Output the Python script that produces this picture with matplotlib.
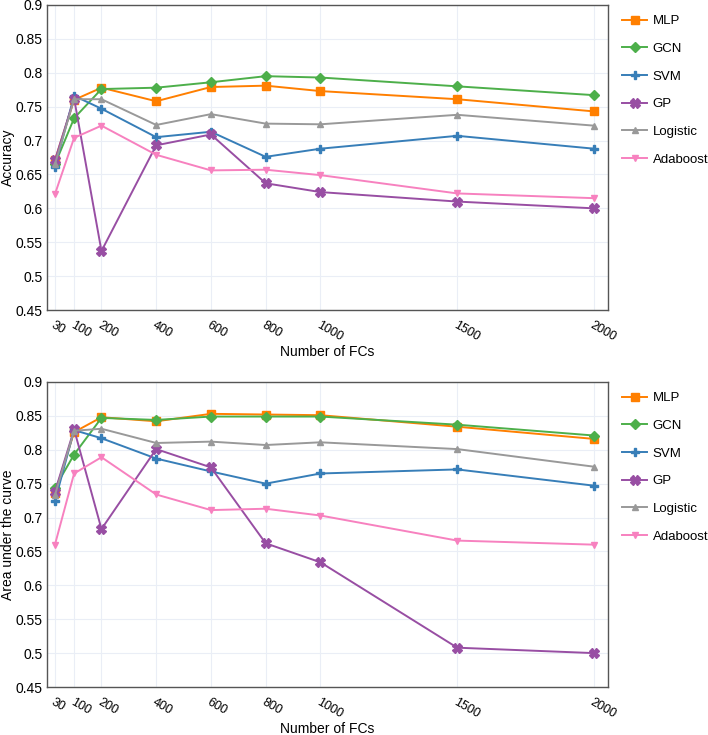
import matplotlib
matplotlib.use("Agg")
import matplotlib.pyplot as plt

plt.rcParams['font.family'] = ['Liberation Sans', 'DejaVu Sans']

# -----------------------------
# Data
n_fcs = [30, 100, 200, 400, 600, 800, 1000, 1500, 2000]
models = ['MLP', 'GCN', 'SVM', 'GP', 'Logistic', 'Adaboost']

acc_mlp      = [0.671, 0.760, 0.778, 0.758, 0.779, 0.781, 0.773, 0.761, 0.743]
acc_gcn      = [0.665, 0.733, 0.776, 0.778, 0.786, 0.795, 0.793, 0.780, 0.767]
acc_svm      = [0.661, 0.766, 0.747, 0.705, 0.713, 0.676, 0.688, 0.707, 0.688]
acc_gp       = [0.671, 0.762, 0.537, 0.693, 0.709, 0.637, 0.624, 0.610, 0.600]
acc_logistic = [0.665, 0.761, 0.761, 0.723, 0.739, 0.725, 0.724, 0.738, 0.722]
acc_adaboost = [0.621, 0.704, 0.722, 0.679, 0.656, 0.657, 0.649, 0.622, 0.615]

auc_mlp      = [0.736, 0.826, 0.848, 0.842, 0.853, 0.852, 0.851, 0.834, 0.816]
auc_gcn      = [0.744, 0.793, 0.847, 0.844, 0.849, 0.849, 0.849, 0.837, 0.821]
auc_svm      = [0.724, 0.829, 0.817, 0.787, 0.768, 0.750, 0.765, 0.771, 0.747]
auc_gp       = [0.738, 0.830, 0.683, 0.801, 0.774, 0.662, 0.634, 0.508, 0.500]
auc_logistic = [0.733, 0.828, 0.831, 0.810, 0.812, 0.807, 0.811, 0.801, 0.775]
auc_adaboost = [0.660, 0.765, 0.789, 0.734, 0.711, 0.713, 0.703, 0.666, 0.660]

y_ticks = [0.45, 0.5, 0.55, 0.6, 0.65, 0.7, 0.75, 0.8, 0.85, 0.9]
y_tick_labels = ['0.45', '0.5', '0.55', '0.6', '0.65', '0.7', '0.75', '0.8', '0.85', '0.9']
# -----------------------------

styles = {
    'MLP':      dict(color='#ff7f00', marker='s', markersize=6),
    'GCN':      dict(color='#4daf4a', marker='D', markersize=5),
    'SVM':      dict(color='#377eb8', marker='P', markersize=6),
    'GP':       dict(color='#984ea3', marker='X', markersize=6.5),
    'Logistic': dict(color='#999999', marker='^', markersize=4),
    'Adaboost': dict(color='#f781bf', marker='v', markersize=4),
}

fig = plt.figure(figsize=(7.08, 7.35), dpi=100)
ax_acc = fig.add_axes([0.0664, 0.5782, 0.7924, 0.415])
ax_auc = fig.add_axes([0.0664, 0.0653, 0.7924, 0.415])


def draw(ax, series, ylabel, legend_top):
    for name, vals in zip(models, series):
        ax.plot(n_fcs, vals, label=name, linewidth=1.4, **styles[name])
    ax.set_xlim(1, 2051)
    ax.set_ylim(0.45, 0.9)
    ax.set_xticks(n_fcs)
    ax.set_xticklabels([str(v) for v in n_fcs], rotation=-30,
                       ha='left', va='top', rotation_mode='anchor')
    ax.set_yticks(y_ticks)
    ax.set_yticklabels(y_tick_labels)
    ax.tick_params(axis='both', length=0)
    ax.tick_params(axis='x', pad=6.5, labelsize=9)
    ax.tick_params(axis='y', pad=3, labelsize=10)
    ax.grid(True, color='#eaeef6', linewidth=0.8)
    ax.set_axisbelow(True)
    for sp in ax.spines.values():
        sp.set_color('#555555')
        sp.set_linewidth(1.0)
    ax.set_xlabel('Number of FCs', fontsize=10)
    ax.xaxis.set_label_coords(0.5, -35 / 305)
    ax.set_ylabel(ylabel, fontsize=10)
    ax.yaxis.set_label_coords(-32 / 561, 0.5)
    fig.legend(*ax.get_legend_handles_labels(), loc='upper left',
               bbox_to_anchor=(0.879, legend_top), frameon=False,
               fontsize=9.5, borderpad=0, borderaxespad=0,
               handlelength=1.9, handletextpad=0.4, labelspacing=1.17)


draw(ax_acc, [acc_mlp, acc_gcn, acc_svm, acc_gp, acc_logistic, acc_adaboost],
     'Accuracy', 1 - 15 / 735)
draw(ax_auc, [auc_mlp, auc_gcn, auc_svm, auc_gp, auc_logistic, auc_adaboost],
     'Area under the curve', 1 - 392 / 735)

fig.savefig('out.png', dpi=100)
